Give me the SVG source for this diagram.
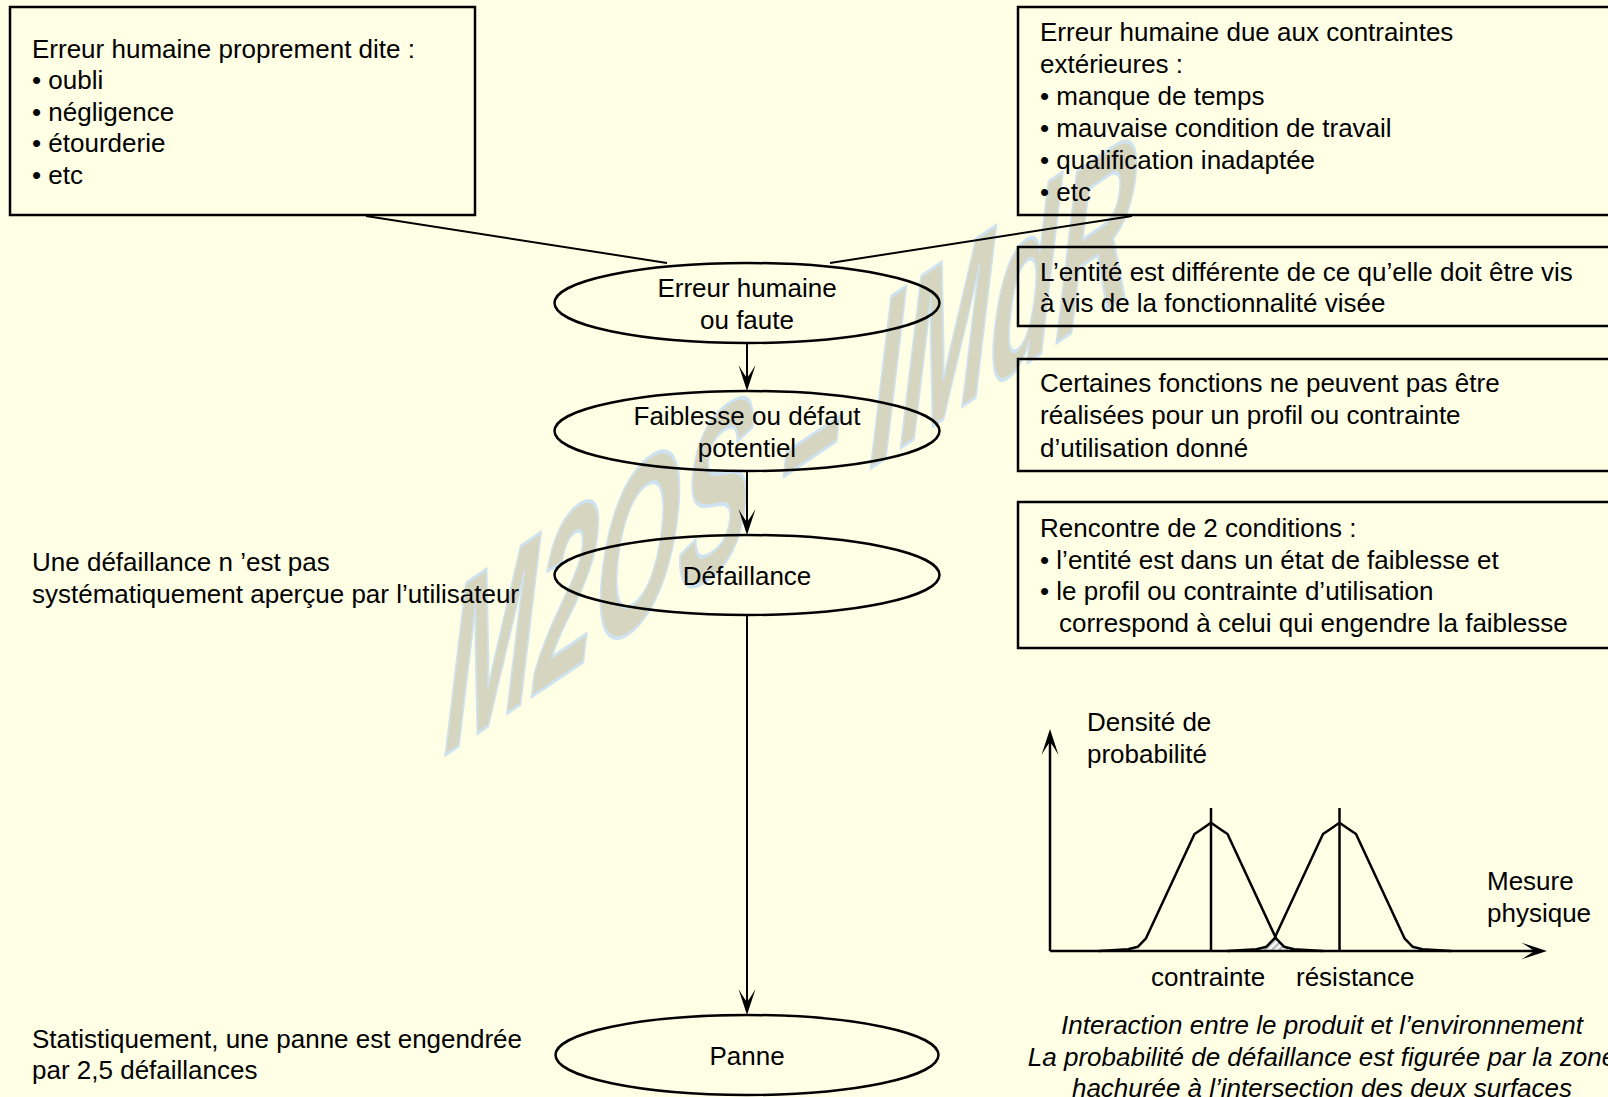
<svg xmlns="http://www.w3.org/2000/svg" width="1608" height="1097" viewBox="0 0 1608 1097">
<style>
.t{font-family:"Liberation Sans",Arial,Helvetica,sans-serif;font-size:26px;fill:#000}
.c{text-anchor:middle}
.i{font-style:italic}
.box{fill:none;stroke:#000;stroke-width:2.5}
.ell{fill:none;stroke:#000;stroke-width:2.5}
.ln{fill:none;stroke:#000;stroke-width:2}
.ax{fill:none;stroke:#000;stroke-width:2.5}
.cv{fill:none;stroke:#000;stroke-width:2.5;stroke-linejoin:round}
.wm{font-family:"Liberation Sans",Arial,sans-serif;font-size:100px;font-weight:bold;fill:#d6d6c0;stroke:#cfe2f0;stroke-width:1.5;stroke-linejoin:round}
</style>
<defs>
<marker id="arr" viewBox="-28 -10 30 20" refX="-10" refY="0" markerWidth="30" markerHeight="20" markerUnits="userSpaceOnUse" orient="auto">
<path d="M0,0 L-26,-8.5 Q-16,-2.5 -13,0 Q-16,2.5 -26,8.5 Z" fill="#000"/>
</marker>
<pattern id="hatch" width="5" height="5" patternUnits="userSpaceOnUse" patternTransform="rotate(45)">
<rect width="5" height="5" fill="#ffffff"/>
<rect width="2.5" height="5" fill="#bdbdbd"/>
</pattern>
</defs>
<rect width="1608" height="1097" fill="#ffffe5"/>
<g id="watermark" transform="matrix(1.078 -0.727 -0.3 2.5 438 760)">
<text class="wm" x="0" y="0">M2OS – IMdR</text>
</g>
<g id="connectors">
<line class="ln" x1="366" y1="216" x2="667" y2="263"/>
<line class="ln" x1="1132" y1="216" x2="830" y2="263"/>
<line class="ln" x1="747" y1="343" x2="747" y2="381" marker-end="url(#arr)"/>
<line class="ln" x1="747" y1="471" x2="747" y2="525" marker-end="url(#arr)"/>
<line class="ln" x1="747" y1="615" x2="747" y2="1005" marker-end="url(#arr)"/>
</g>
<g id="box-erreur-propre">
<rect class="box" x="10" y="7" width="465" height="208"/>
<text class="t" x="32" y="57.5">Erreur humaine proprement dite :</text>
<text class="t" x="32" y="89">• oubli</text>
<text class="t" x="32" y="120.5">• négligence</text>
<text class="t" x="32" y="152">• étourderie</text>
<text class="t" x="32" y="183.5">• etc</text>
</g>
<g id="box-erreur-contraintes">
<rect class="box" x="1018" y="7" width="600" height="208"/>
<text class="t" x="1040" y="40.5">Erreur humaine due aux contraintes</text>
<text class="t" x="1040" y="72.5">extérieures :</text>
<text class="t" x="1040" y="104.5">• manque de temps</text>
<text class="t" x="1040" y="136.5">• mauvaise condition de travail</text>
<text class="t" x="1040" y="168.5">• qualification inadaptée</text>
<text class="t" x="1040" y="200.5">• etc</text>
</g>
<g id="box-entite">
<rect class="box" x="1018" y="247" width="600" height="79"/>
<text class="t" x="1040" y="280.5">L’entité est différente de ce qu’elle doit être vis</text>
<text class="t" x="1040" y="312">à vis de la fonctionnalité visée</text>
</g>
<g id="box-fonctions">
<rect class="box" x="1018" y="359" width="600" height="112"/>
<text class="t" x="1040" y="392">Certaines fonctions ne peuvent pas être</text>
<text class="t" x="1040" y="424">réalisées pour un profil ou contrainte</text>
<text class="t" x="1040" y="456.5">d’utilisation donné</text>
</g>
<g id="box-conditions">
<rect class="box" x="1018" y="502" width="600" height="146"/>
<text class="t" x="1040" y="536.5">Rencontre de 2 conditions :</text>
<text class="t" x="1040" y="568.5">• l’entité est dans un état de faiblesse et</text>
<text class="t" x="1040" y="600">• le profil ou contrainte d’utilisation</text>
<text class="t" x="1059" y="632">correspond à celui qui engendre la faiblesse</text>
</g>
<g id="node-erreur">
<ellipse class="ell" cx="747" cy="303" rx="192.5" ry="40"/>
<text class="t c" x="747" y="296.5">Erreur humaine</text>
<text class="t c" x="747" y="328.5">ou faute</text>
</g>
<g id="node-faiblesse">
<ellipse class="ell" cx="747" cy="431" rx="192.5" ry="40"/>
<text class="t c" x="747" y="425">Faiblesse ou défaut</text>
<text class="t c" x="747" y="456.5">potentiel</text>
</g>
<g id="node-defaillance">
<ellipse class="ell" cx="747" cy="575" rx="192.5" ry="40"/>
<text class="t c" x="747" y="584.5">Défaillance</text>
</g>
<g id="node-panne">
<ellipse class="ell" cx="747" cy="1055" rx="191.5" ry="40"/>
<text class="t c" x="747" y="1064.5">Panne</text>
</g>
<g id="note-defaillance">
<text class="t" x="32" y="570.5">Une défaillance n ’est pas</text>
<text class="t" x="32" y="602.5">systématiquement aperçue par l’utilisateur</text>
</g>
<g id="note-panne">
<text class="t" x="32" y="1047.5">Statistiquement, une panne est engendrée</text>
<text class="t" x="32" y="1079">par 2,5 défaillances</text>
</g>
<g id="chart">
<path d="M1275.3,936.7 L1276,938.3 L1284,946.7 L1294,949.3 L1323,951 L1227.5,951 L1256.5,949.3 L1266.5,946.7 L1274.5,938.3 Z" fill="url(#hatch)"/>
<line class="ax" x1="1050" y1="951" x2="1050" y2="739" marker-end="url(#arr)"/>
<line class="ax" x1="1050" y1="951" x2="1537" y2="951" marker-end="url(#arr)"/>
<polyline class="cv" points="1099,951 1128,949.3 1138,946.7 1146,938.3 1194.5,834 1200.5,830 1211,822.7 1221.5,830 1227.5,834 1276,938.3 1284,946.7 1294,949.3 1323,951"/>
<polyline class="cv" points="1227.5,951 1256.5,949.3 1266.5,946.7 1274.5,938.3 1323,834 1329,830 1339.5,822.7 1350,830 1356,834 1404.5,938.3 1412.5,946.7 1422.5,949.3 1451.5,951"/>
<line class="ax" x1="1211" y1="808" x2="1211" y2="951"/>
<line class="ax" x1="1339.5" y1="808" x2="1339.5" y2="951"/>
<text class="t" x="1087" y="730.5">Densité de</text>
<text class="t" x="1087" y="762.5">probabilité</text>
<text class="t" x="1487" y="890">Mesure</text>
<text class="t" x="1487" y="922">physique</text>
<text class="t" x="1151" y="985.5">contrainte</text>
<text class="t" x="1296" y="985.5">résistance</text>
<text class="t i c" x="1322" y="1033.5">Interaction entre le produit et l’environnement</text>
<text class="t i c" x="1322" y="1066">La probabilité de défaillance est figurée par la zone</text>
<text class="t i c" x="1322" y="1097">hachurée à l’intersection des deux surfaces</text>
</g>
</svg>
